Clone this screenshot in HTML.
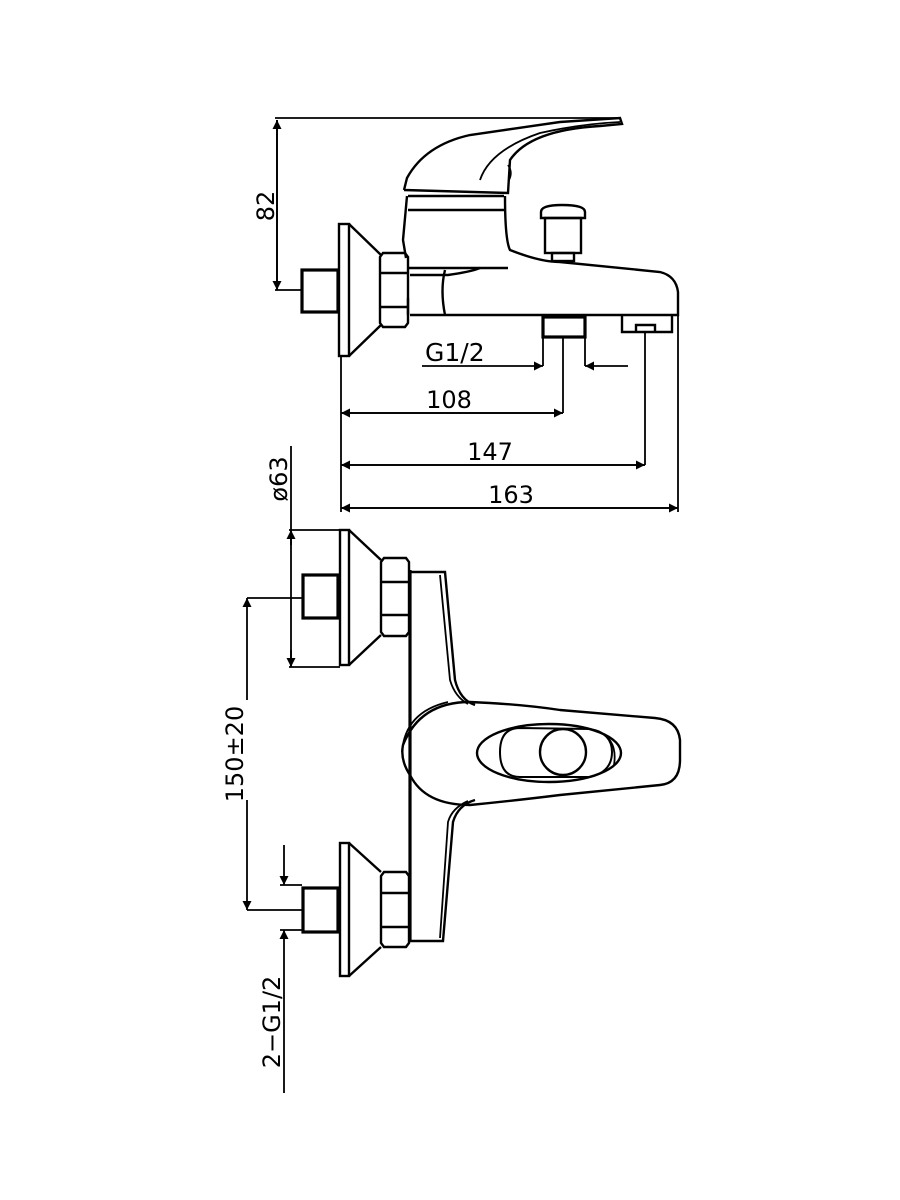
<!DOCTYPE html>
<html><head><meta charset="utf-8"><style>
html,body{margin:0;padding:0;background:#fff}
svg{display:block}
text{font-family:"DejaVu Sans","Liberation Sans",sans-serif;font-size:24px;fill:#000}
</style></head><body>
<svg width="900" height="1200" viewBox="0 0 900 1200" xmlns="http://www.w3.org/2000/svg">
<defs>
<marker id="a" viewBox="0 0 10 10" refX="10" refY="5" markerWidth="16" markerHeight="9" markerUnits="userSpaceOnUse" orient="auto"><path d="M0,0 L10,5 L0,10 z" fill="#000"/></marker>
</defs>
<g fill="none" stroke="#000" stroke-width="2.4">
<!-- TOP VIEW -->
<line x1="275" y1="118" x2="620" y2="118" stroke-width="1.8"/>
<line x1="277" y1="290" x2="277" y2="120" marker-end="url(#a)" stroke-width="1.8"/>
<line x1="277" y1="120" x2="277" y2="290" marker-end="url(#a)" stroke-width="1.8"/>
<line x1="275" y1="290" x2="302" y2="290" stroke-width="1.8"/>
<rect x="302" y="270" width="36" height="42" stroke-width="3.2"/>
<rect x="339" y="224" width="10" height="132"/>
<path d="M349,224 L381,255 M349,356 L381,325"/>
<path d="M383,253 h22 l3,4 v66 l-3,4 h-22 l-3,-4 v-66 z M380,273 h28 M380,307 h28"/>
<!-- body -->
<path d="M408,268 h100 M410,315 H678 V292 Q676,276 660,272 L560,262 Q540,262 510,250 Q505,240 505,196 M406,258 L403,240 L407,196"/>
<path d="M408,298 L408,315 M410,275 L448,275 Q470,272 480,268"/>
<path d="M445,270 Q440,290 445,315" />
<path d="M408,196 H504 M408,210 H504"/>
<!-- lever -->
<path d="M404,190 L407,178 Q425,145 470,135 L560,122 L620,118 L622,124 L600,126 Q530,130 510,160 L508,193 L404,190"/>
<path d="M480,180 Q490,150 540,133 Q580,124 620,122" stroke-width="1.8"/>
<path d="M508,165 Q513,172 509,180" stroke-width="1.8"/>
<!-- diverter knob -->
<path d="M541,212 Q541,205 562,205 Q585,205 585,212 V218 H541 Z"/>
<rect x="545" y="218" width="36" height="35"/>
<rect x="552" y="253" width="22" height="8"/>
<rect x="543" y="317" width="42" height="20" stroke-width="3.2"/>
<path d="M622,315 V332 H672 V315 M636,332 V325 H655 V332"/>
<!-- dims -->
<g stroke-width="1.8">
<line x1="543" y1="337" x2="543" y2="366"/><line x1="585" y1="337" x2="585" y2="366"/>
<line x1="563" y1="337" x2="563" y2="413"/>
<line x1="422" y1="366" x2="543" y2="366" marker-end="url(#a)"/>
<line x1="628" y1="366" x2="585" y2="366" marker-end="url(#a)"/>
<line x1="341" y1="356" x2="341" y2="512"/>
<line x1="645" y1="332" x2="645" y2="465"/>
<line x1="678" y1="315" x2="678" y2="512"/>
<line x1="341" y1="413" x2="563" y2="413" marker-end="url(#a)"/>
<line x1="563" y1="413" x2="341" y2="413" marker-end="url(#a)"/>
<line x1="341" y1="465" x2="645" y2="465" marker-end="url(#a)"/>
<line x1="645" y1="465" x2="341" y2="465" marker-end="url(#a)"/>
<line x1="341" y1="508" x2="678" y2="508" marker-end="url(#a)"/>
<line x1="678" y1="508" x2="341" y2="508" marker-end="url(#a)"/>
</g>
<!-- BOTTOM VIEW -->
<g stroke-width="1.8">
<line x1="291" y1="446" x2="291" y2="667"/>
<line x1="291" y1="545" x2="291" y2="530" marker-end="url(#a)"/>
<line x1="291" y1="650" x2="291" y2="667" marker-end="url(#a)"/>
<line x1="289" y1="530" x2="340" y2="530"/><line x1="289" y1="667" x2="340" y2="667"/>
<line x1="247" y1="598" x2="302" y2="598"/><line x1="247" y1="910" x2="302" y2="910"/>
<line x1="247" y1="700" x2="247" y2="598" marker-end="url(#a)"/>
<line x1="247" y1="800" x2="247" y2="910" marker-end="url(#a)"/>
<line x1="280" y1="885" x2="302" y2="885"/><line x1="280" y1="930" x2="302" y2="930"/>
<line x1="284" y1="845" x2="284" y2="885" marker-end="url(#a)"/>
<line x1="284" y1="1093" x2="284" y2="930" marker-end="url(#a)"/>
</g>
<!-- top valve -->
<rect x="303" y="575" width="35" height="43" stroke-width="3.2"/>
<rect x="340" y="530" width="9" height="135"/>
<path d="M349,530 L381,560 M349,665 L381,635"/>
<path d="M384,558 h22 l3,4 v70 l-3,4 h-22 l-3,-4 v-70 z M381,582 h28 M381,615 h28"/>
<!-- bottom valve -->
<rect x="303" y="888" width="35" height="44" stroke-width="3.2"/>
<rect x="340" y="843" width="9" height="133"/>
<path d="M349,843 L381,872 M349,976 L381,947"/>
<path d="M384,872 h22 l3,4 v67 l-3,4 h-22 l-3,-4 v-67 z M381,893 h28 M381,927 h28"/>
<!-- body -->
<line x1="410" y1="570" x2="410" y2="942" stroke-width="3.2"/>
<path d="M410,572 H445 L455,680 Q460,700 475,705 M410,941 H443 L453,822 Q458,805 475,800"/>
<path d="M440,575 L450,680 Q455,697 468,704 M440,938 L448,822 Q452,808 468,801" stroke-width="1.8"/>
<!-- handle -->
<path d="M470,702 Q420,702 403,745 Q400,760 410,775 Q425,805 470,805 Q520,800 560,795 L660,785 Q680,783 680,760 L680,740 Q678,720 655,718 L560,710 Q520,704 470,702 Z"/>
<path d="M402,752 Q405,712 448,702" stroke-width="1.8"/>
<ellipse cx="549" cy="753" rx="72" ry="29"/>
<path d="M520,728 Q500,728 500,752 Q500,777 520,777 L590,777 Q612,772 612,752 Q612,733 590,729 Z" stroke-width="2"/>
<path d="M598,731 Q618,740 614,765" stroke-width="1.8"/>
<circle cx="563" cy="752" r="23"/>
</g>
<text x="425" y="361" style="font-size:25px">G1/2</text>
<text x="449" y="408" text-anchor="middle">108</text>
<text x="490" y="460" text-anchor="middle">147</text>
<text x="511" y="503" text-anchor="middle">163</text>
<text transform="translate(274,206) rotate(-90)" text-anchor="middle">82</text>
<text transform="translate(287,479) rotate(-90)" text-anchor="middle">ø63</text>
<text transform="translate(243,754) rotate(-90)" text-anchor="middle">150±20</text>
<text transform="translate(280,1022) rotate(-90)" text-anchor="middle">2−G1/2</text>
</svg>
</body></html>
